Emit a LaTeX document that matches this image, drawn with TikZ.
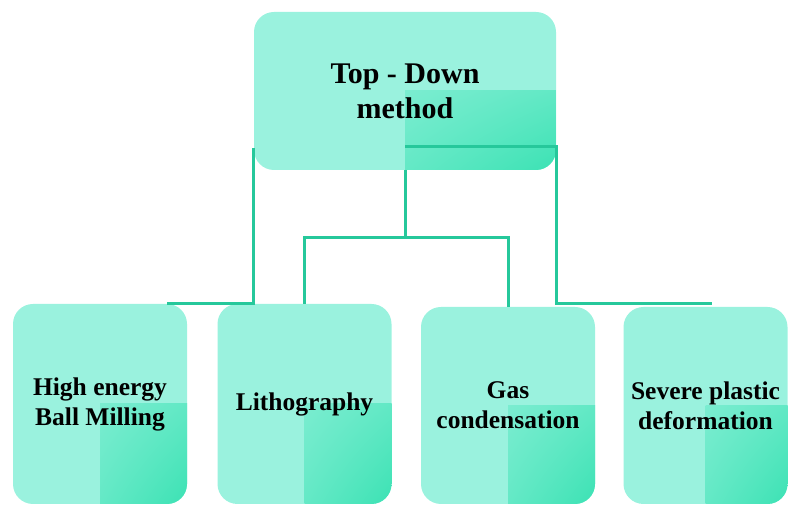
\documentclass[tikz,border=0pt]{standalone}
\usepackage{fontspec}
\setmainfont{Liberation Serif}
\usetikzlibrary{calc,shadings}

\definecolor{boxfill}{HTML}{9AF2DE}
\definecolor{boxdark}{HTML}{3CE2B4}
\definecolor{linkcol}{HTML}{26C89B}

\tikzset{
  box/.style={rounded corners=20pt, fill=boxfill, inner sep=0pt, align=center,
    font=\bfseries\fontsize{25.5}{30}\selectfont,
    path picture={\shade[sharp corners, upper left=boxfill, upper right=boxfill!80!boxdark,
        lower left=boxfill!85!boxdark, lower right=boxdark]
      (path picture bounding box.south east) rectangle (path picture bounding box.center);}},
  leaf/.style={box, minimum width=174pt, minimum height=200pt},
  link/.style={draw=linkcol, line width=3pt}
}

\begin{document}
\begin{tikzpicture}[x=1pt,y=1pt]

      \clip (0,0) rectangle (788,505);

      \node[box, minimum width=302pt, minimum height=158pt,
        font=\bfseries\fontsize{30}{35}\selectfont] (top) at (405,414) {Top - Down\\method};
      \node[leaf] (ball) at (100,101) {High energy\\Ball Milling};
      \node[leaf] (litho) at (304.5,101) {Lithography};
      \node[leaf, minimum height=197pt] (gas) at (508,99.5) {Gas\\condensation};
      \node[leaf, minimum width=164pt, minimum height=197pt] (spd) at (705.5,99.5) {Severe plastic\\deformation};

      \coordinate (leftend) at (167,201);
      \coordinate (rightend) at (712,201);
      \coordinate (fork) at (405,267);

      \draw[link] ([yshift=22pt]top.south west) |- (leftend);
      \draw[link] (top.south) -- (fork);
      \draw[link] (litho.north) |- (fork) -| (gas.north);
      \draw[link] ([yshift=24pt]top.south) -| (top.south east |- rightend) -- (rightend);

    \end{tikzpicture}
\end{document}
